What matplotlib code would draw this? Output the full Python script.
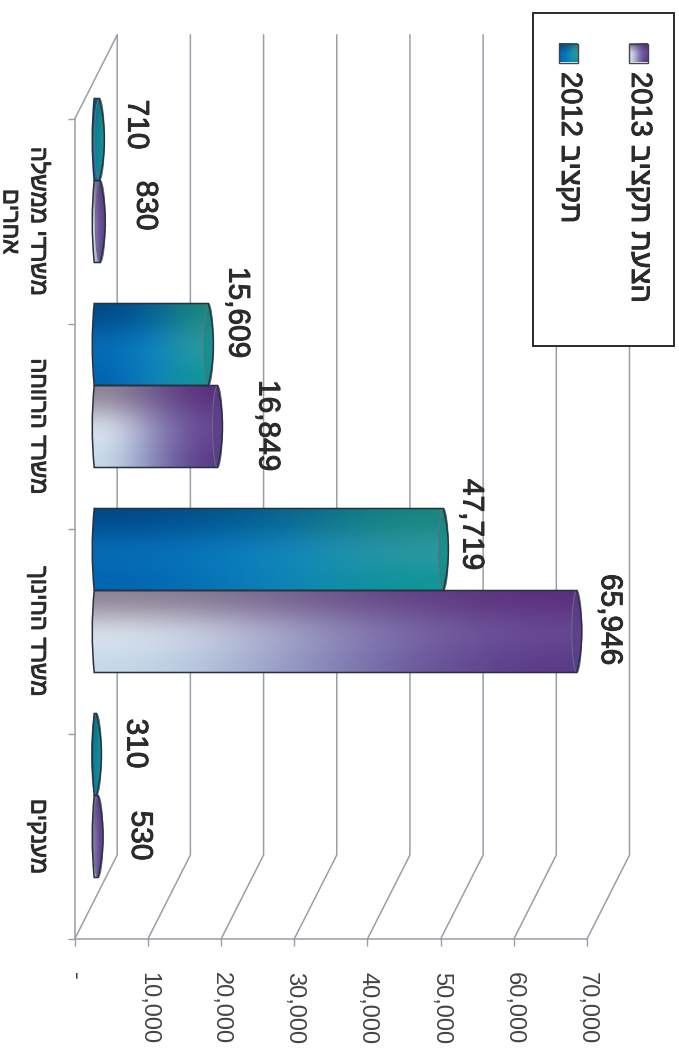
import numpy as np
import matplotlib
matplotlib.use("Agg")
import matplotlib.pyplot as plt
import matplotlib.patheffects as pe
from matplotlib.path import Path
from matplotlib.patches import PathPatch, Ellipse, Rectangle

plt.rcParams['font.family'] = ['Liberation Sans', 'DejaVu Sans']

categories = ["משרדי ממשלה\nאחרים", "משרד הרווחה", "משרד החינוך", "מענקים"]
budget_2012 = [710, 15609, 47719, 310]
budget_2013 = [830, 16849, 65946, 530]
legend_2012 = "תקציב 2012"
legend_2013 = "הצעת תקציב 2013"
value_ticks = [0, 10000, 20000, 30000, 40000, 50000, 60000, 70000]
value_tick_labels = ["-", "10,000", "20,000", "30,000", "40,000", "50,000", "60,000", "70,000"]

W, H = 679, 1048
X0, X1, Y0, Y1 = 74.7, 587.0, 119.0, 939.0
px_per_value = (X1 - X0) / 70000
px_per_cat = (Y1 - Y0) / 4

# 3d look, all in pixels of the picture
depth_x, depth_y = 42.5 / px_per_value, 84 / px_per_cat
bar_x, bar_y = 19.5 / px_per_value, 41 / px_per_cat
bar_h = 82 / px_per_cat
base_bulge, cap_bulge = 2 / px_per_value, 5 / px_per_value

grid_color = "#9a9ea8"
text_color = "#2b2b2b"
heavy = [pe.withStroke(linewidth=0.7, foreground=text_color)]

# corner colours of the bars: top, middle, bottom by left, centre, right
shade_2012 = np.array([
    [[0, 72, 135], [5, 95, 150], [25, 135, 125]],
    [[8, 112, 185], [10, 135, 200], [55, 155, 165]],
    [[0, 100, 175], [15, 130, 190], [15, 150, 150]],
]) / 255
shade_2013 = np.array([
    [[140, 130, 148], [105, 85, 140], [90, 45, 125]],
    [[232, 240, 246], [140, 135, 185], [105, 75, 150]],
    [[200, 220, 235], [125, 125, 180], [90, 55, 135]],
]) / 255
cap_2012, cap_2013 = "#108a85", "#5b3d8a"


def visual(text):
    # matplotlib has no bidi, so hebrew goes in reversed
    lines = []
    for line in text.split("\n"):
        words = line.split(" ")
        if words[-1].isdigit():
            lines.append(words[-1] + " " + " ".join(words[:-1])[::-1])
        else:
            lines.append(line[::-1])
    return "\n".join(lines)


def draw_bar(ax, value, ymid, shade, cap):
    x0 = bar_x
    x1 = bar_x + value
    top, bot = ymid - bar_h / 2, ymid + bar_h / 2
    verts = [(x0, top), (x0 - 2 * base_bulge, ymid), (x0, bot), (x1, bot),
             (x1 + 2 * cap_bulge, ymid), (x1, top), (x0, top)]
    codes = [Path.MOVETO, Path.CURVE3, Path.CURVE3, Path.LINETO,
             Path.CURVE3, Path.CURVE3, Path.CLOSEPOLY]
    body = PathPatch(Path(verts, codes), facecolor="none", edgecolor="#28323c",
                     lw=1.1, zorder=6, clip_on=False)
    ax.add_patch(body)
    im = ax.imshow(shade, extent=(x0 - base_bulge, x1 + cap_bulge, bot, top), origin="upper",
                   aspect="auto", interpolation="bicubic", zorder=3)
    im.set_clip_box(ax.figure.bbox)
    im.set_clip_path(body)
    ax.add_patch(Ellipse((x1, ymid), 2 * cap_bulge, bar_h, facecolor=cap, edgecolor="none",
                         alpha=0.6, zorder=4, clip_on=False))
    ax.add_patch(Ellipse((x1, ymid), 2 * cap_bulge, bar_h, facecolor="none", edgecolor="#66707a",
                         lw=0.7, zorder=5, clip_on=False))


fig = plt.figure(figsize=(W / 100, H / 100), dpi=100)
ax = fig.add_axes([X0 / W, 1 - Y1 / H, (X1 - X0) / W, (Y1 - Y0) / H])
ax.patch.set_visible(False)

# walls
for t in value_ticks:
    ax.plot([t, t + depth_x, t + depth_x], [4, 4 - depth_y, -depth_y],
            color=grid_color, lw=1.1, clip_on=False, zorder=1)
ax.plot([0, depth_x], [0, -depth_y], color=grid_color, lw=1.1, clip_on=False, zorder=1)

label_offsets_2012 = [(37, -15), (29, -32), (28, -25), (39, -11)]
label_offsets_2013 = [(45, -16), (50, -1), (33, -12), (42, -1)]
for i, name in enumerate(categories):
    mid = i + 0.5 - bar_y
    draw_bar(ax, budget_2012[i], mid - bar_h / 2, shade_2012, cap_2012)
    draw_bar(ax, budget_2013[i], mid + bar_h / 2, shade_2013, cap_2013)
    for val, ypos, off in ((budget_2012[i], mid - bar_h / 2, label_offsets_2012[i]),
                           (budget_2013[i], mid + bar_h / 2, label_offsets_2013[i])):
        ax.annotate(f"{val:,}", xy=(bar_x + val, ypos), xytext=(off[0], -off[1]),
                    textcoords="offset pixels", rotation=-90, ha="center", va="center",
                    fontsize=21.5, color=text_color, zorder=7, annotation_clip=False,
                    path_effects=heavy)
    ax.annotate(visual(name), xy=(0, i + 0.5), xytext=(-26, 0), textcoords="offset pixels",
                rotation=-90, ha="right", va="center", fontsize=17, color=text_color,
                linespacing=1.35, multialignment="center", annotation_clip=False,
                path_effects=heavy)

ax.set_xlim(0, 70000)
ax.set_ylim(4, 0)
ax.set_xticks(value_ticks, value_tick_labels, rotation=-90, fontsize=17, color="#444444")
ax.set_yticks(range(5), [])
ax.tick_params(axis="both", length=5, width=1, color=grid_color)
ax.tick_params(axis="x", pad=19)
for side in ("top", "right"):
    ax.spines[side].set_visible(False)
for side in ("left", "bottom"):
    ax.spines[side].set_color(grid_color)
    ax.spines[side].set_linewidth(1.1)

# legend box, drawn by hand since it is rotated with the page
pax = fig.add_axes([0, 0, 1, 1])
pax.axis("off")
pax.add_patch(Rectangle((533, 13), 141, 333, facecolor="white", edgecolor="#2a2a2a", lw=1.4))
for x, label, shade in ((638, legend_2013, shade_2013), (568, legend_2012, shade_2012)):
    pax.imshow(shade, extent=(x - 9.5, x + 9.5, 62.5, 43.5), origin="upper",
               aspect="auto", interpolation="bicubic", zorder=2)
    pax.add_patch(Rectangle((x - 9.5, 43.5), 19, 19, facecolor="none", edgecolor="#444444",
                            lw=1, zorder=3))
    pax.text(x + 2, 72, visual(label), rotation=-90, ha="center", va="top",
             fontsize=21, color=text_color, path_effects=heavy)
pax.set_xlim(0, W)
pax.set_ylim(H, 0)

fig.savefig("out.png", dpi=100)
